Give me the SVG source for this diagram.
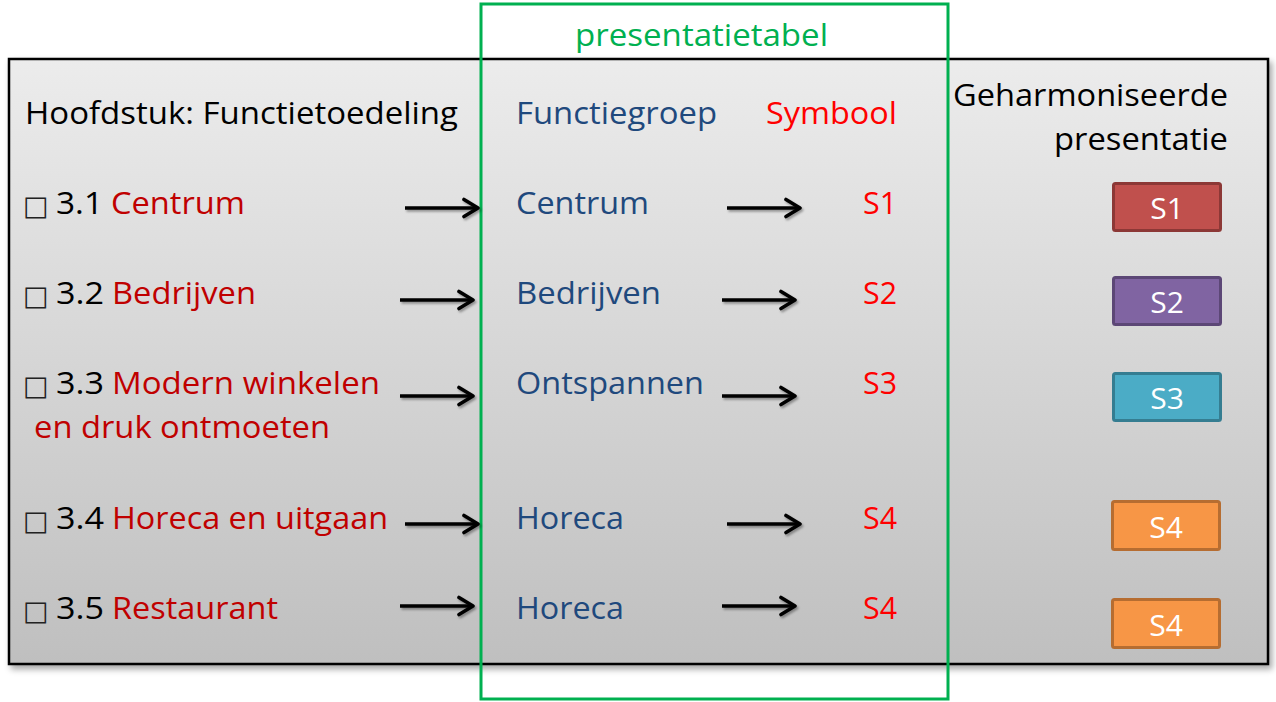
<svg xmlns="http://www.w3.org/2000/svg" width="1276" height="702" viewBox="0 0 1276 702">
  <defs>
    <linearGradient id="panelFill" x1="0" y1="0" x2="0" y2="1">
      <stop offset="0" stop-color="#ececec"/>
      <stop offset="1" stop-color="#bfbfbf"/>
    </linearGradient>
    <filter id="shadow" x="-5%" y="-5%" width="110%" height="115%">
      <feDropShadow dx="3" dy="4" stdDeviation="3" flood-color="#000" flood-opacity="0.35"/>
    </filter>
    <filter id="arrowShadow" x="-10%" y="-50%" width="120%" height="200%">
      <feDropShadow dx="1.5" dy="2" stdDeviation="1.2" flood-color="#000" flood-opacity="0.35"/>
    </filter>
    <marker id="head" viewBox="0 0 19 22" refX="16.5" refY="11" markerWidth="19" markerHeight="22" markerUnits="userSpaceOnUse" orient="auto">
      <path d="M2.5,2.5 L16.5,11 L2.5,19.5" fill="none" stroke="#000" stroke-width="3.6" stroke-linecap="round" stroke-linejoin="round"/>
    </marker>
  </defs>
  <style>
    text { font-family: "Open Sans", "Noto Sans", "DejaVu Sans", sans-serif; font-size: 31px; }
    .blk { fill: #000; }
    .red { fill: #c00000; }
    .sym { fill: #ff0000; }
    .blue { fill: #1f497d; }
    .box { font-family: "DejaVu Sans", sans-serif; font-size: 27px; fill: #222; }
    .badge text { fill: #fff; font-size: 30px; text-anchor: middle; }
    .arrow { stroke: #000; stroke-width: 3.4; fill: none; marker-end: url(#head); }
  </style>

  <!-- grey panel -->
  <rect id="panel" x="9" y="59" width="1259" height="605" fill="url(#panelFill)" stroke="#000" stroke-width="2.5" filter="url(#shadow)"/>

  <!-- column headings -->
  <g id="headings">
    <text class="blk" x="25" y="124" textLength="433" lengthAdjust="spacingAndGlyphs">Hoofdstuk: Functietoedeling</text>
    <text class="blue" x="516" y="124" textLength="201" lengthAdjust="spacingAndGlyphs">Functiegroep</text>
    <text class="sym" x="766" y="124" textLength="131" lengthAdjust="spacingAndGlyphs">Symbool</text>
    <text class="blk" x="953" y="106" textLength="275" lengthAdjust="spacingAndGlyphs">Geharmoniseerde</text>
    <text class="blk" x="1054" y="150" textLength="174" lengthAdjust="spacingAndGlyphs">presentatie</text>
  </g>

  <!-- chapter items -->
  <g id="item-3-1">
    <text class="box" x="23" y="215">□</text>
    <text class="blk" x="56" y="214" textLength="47" lengthAdjust="spacingAndGlyphs">3.1</text>
    <text class="red" x="111" y="214" textLength="134" lengthAdjust="spacingAndGlyphs">Centrum</text>
  </g>
  <g id="item-3-2">
    <text class="box" x="23" y="305">□</text>
    <text class="blk" x="56" y="304" textLength="48" lengthAdjust="spacingAndGlyphs">3.2</text>
    <text class="red" x="112" y="304" textLength="144" lengthAdjust="spacingAndGlyphs">Bedrijven</text>
  </g>
  <g id="item-3-3">
    <text class="box" x="23" y="395">□</text>
    <text class="blk" x="56" y="394" textLength="48" lengthAdjust="spacingAndGlyphs">3.3</text>
    <text class="red" x="112" y="394" textLength="268" lengthAdjust="spacingAndGlyphs">Modern winkelen</text>
    <text class="red" x="34" y="438" textLength="296" lengthAdjust="spacingAndGlyphs">en druk ontmoeten</text>
  </g>
  <g id="item-3-4">
    <text class="box" x="23" y="530">□</text>
    <text class="blk" x="56" y="529" textLength="48" lengthAdjust="spacingAndGlyphs">3.4</text>
    <text class="red" x="112" y="529" textLength="276" lengthAdjust="spacingAndGlyphs">Horeca en uitgaan</text>
  </g>
  <g id="item-3-5">
    <text class="box" x="23" y="620">□</text>
    <text class="blk" x="56" y="619" textLength="48" lengthAdjust="spacingAndGlyphs">3.5</text>
    <text class="red" x="112" y="619" textLength="166" lengthAdjust="spacingAndGlyphs">Restaurant</text>
  </g>

  <!-- presentation table -->
  <g id="presentatietabel">
    <rect x="481" y="4" width="467" height="695" fill="none" stroke="#00b050" stroke-width="3"/>
    <text x="575" y="46" fill="#00b050" textLength="253" lengthAdjust="spacingAndGlyphs">presentatietabel</text>
  </g>

  <g id="group-centrum"><text class="blue" x="516" y="214" textLength="133" lengthAdjust="spacingAndGlyphs">Centrum</text></g>
  <g id="group-bedrijven"><text class="blue" x="516" y="304" textLength="145" lengthAdjust="spacingAndGlyphs">Bedrijven</text></g>
  <g id="group-ontspannen"><text class="blue" x="516" y="394" textLength="188" lengthAdjust="spacingAndGlyphs">Ontspannen</text></g>
  <g id="group-horeca-1"><text class="blue" x="516" y="529" textLength="108" lengthAdjust="spacingAndGlyphs">Horeca</text></g>
  <g id="group-horeca-2"><text class="blue" x="516" y="619" textLength="108" lengthAdjust="spacingAndGlyphs">Horeca</text></g>

  <g id="symbol-s1"><text class="sym" x="863" y="214" textLength="34" lengthAdjust="spacingAndGlyphs">S1</text></g>
  <g id="symbol-s2"><text class="sym" x="863" y="304" textLength="34" lengthAdjust="spacingAndGlyphs">S2</text></g>
  <g id="symbol-s3"><text class="sym" x="863" y="394" textLength="34" lengthAdjust="spacingAndGlyphs">S3</text></g>
  <g id="symbol-s4-1"><text class="sym" x="863" y="529" textLength="34" lengthAdjust="spacingAndGlyphs">S4</text></g>
  <g id="symbol-s4-2"><text class="sym" x="863" y="619" textLength="34" lengthAdjust="spacingAndGlyphs">S4</text></g>

  <!-- harmonised badges -->
  <g id="badge-s1" class="badge">
    <rect x="1113.5" y="183.5" width="107" height="47" rx="2" fill="#c0504d" stroke="#8c3836" stroke-width="3"/>
    <text x="1167" y="219">S1</text>
  </g>
  <g id="badge-s2" class="badge">
    <rect x="1113.5" y="277.5" width="107" height="47" rx="2" fill="#8064a2" stroke="#5c4776" stroke-width="3"/>
    <text x="1167" y="313">S2</text>
  </g>
  <g id="badge-s3" class="badge">
    <rect x="1113.5" y="373.5" width="107" height="47" rx="2" fill="#4bacc6" stroke="#357d91" stroke-width="3"/>
    <text x="1167" y="409">S3</text>
  </g>
  <g id="badge-s4-1" class="badge">
    <rect x="1112.5" y="501.5" width="107" height="48" rx="2" fill="#f79646" stroke="#b66d31" stroke-width="3"/>
    <text x="1166" y="538">S4</text>
  </g>
  <g id="badge-s4-2" class="badge">
    <rect x="1112.5" y="599.5" width="107" height="48" rx="2" fill="#f79646" stroke="#b66d31" stroke-width="3"/>
    <text x="1166" y="636">S4</text>
  </g>

  <!-- connectors -->
  <g id="connectors" filter="url(#arrowShadow)">
    <path class="arrow" d="M405,208 H478"/>
    <path class="arrow" d="M727,208 H800"/>
    <path class="arrow" d="M400,300 H473"/>
    <path class="arrow" d="M722,300 H795"/>
    <path class="arrow" d="M400,396 H473"/>
    <path class="arrow" d="M722,396 H795"/>
    <path class="arrow" d="M405,524 H478"/>
    <path class="arrow" d="M727,524 H800"/>
    <path class="arrow" d="M400,606 H473"/>
    <path class="arrow" d="M722,606 H795"/>
  </g>
</svg>
